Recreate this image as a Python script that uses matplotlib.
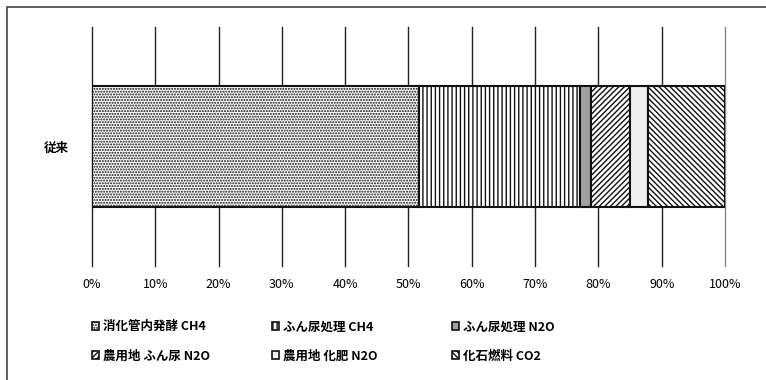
import matplotlib
matplotlib.use("Agg")
import matplotlib.pyplot as plt
from matplotlib.patches import Patch, Rectangle

plt.rcParams['font.family'] = ['Noto Sans CJK JP', 'DejaVu Sans']
plt.rcParams['hatch.linewidth'] = 1.0

category = ['従来']
sources = ['消化管内発酵 CH4', 'ふん尿処理 CH4', 'ふん尿処理 N2O',
           '農用地 ふん尿 N2O', '農用地 化肥 N2O', '化石燃料 CO2']
shares = [51.7, 25.4, 1.7, 6.2, 2.9, 12.1]
ticks = [0, 10, 20, 30, 40, 50, 60, 70, 80, 90, 100]

fills = ['white', 'white', '#a0a0a0', 'white', '#efefef', 'white']
hatches = ['.' * 6, '|' * 4, None, '/' * 6, None, '\\' * 6]

fig = plt.figure(figsize=(7.66, 3.8), dpi=100)
ax = fig.add_axes([0.120, 0.300, 0.8265, 0.629])

left = 0
for val, fc, h in zip(shares, fills, hatches):
    ax.barh(0, val, left=left, height=0.51, color=fc, hatch=h,
            edgecolor='#111111', linewidth=1.5, zorder=3)
    left += val

ax.set_xlim(0, 100)
ax.set_ylim(-0.5, 0.5)
ax.set_xticks(ticks)
ax.set_xticklabels([f'{t}%' for t in ticks], fontsize=9)
ax.set_yticks([0])
ax.set_yticklabels(category, fontsize=9, fontweight='bold')
ax.tick_params(axis='x', length=0, pad=9)
ax.tick_params(axis='y', length=0, pad=17)
for s in ax.spines.values():
    s.set_visible(False)
for t in ticks:
    ax.axvline(t, color='#222222' if t < 100 else '#888888', lw=1,
               zorder=1, clip_on=False)

# legend: three columns of two entries each, read row by row
handles = [Patch(facecolor=fc, edgecolor='#111111', hatch=h, linewidth=1.2)
           for fc, h in zip(fills, hatches)]
col_x = [0.1195, 0.3545, 0.5895]
for i, x in enumerate(col_x):
    idx = [i, i + 3]
    fig.legend([handles[j] for j in idx], [sources[j] for j in idx],
               loc='upper left', bbox_to_anchor=(x, 0.157), frameon=False,
               prop={'size': 9, 'weight': 'bold'}, handlelength=0.6,
               handleheight=0.6, handletextpad=0.3, labelspacing=1.3,
               borderpad=0, borderaxespad=0)

fig.add_artist(Rectangle((7 / 766, -0.05), 1.1, 0.05 + 1 - 7 / 380,
                         transform=fig.transFigure, fill=False,
                         edgecolor='#444444', lw=1.2))

fig.savefig('out.png', dpi=100)
